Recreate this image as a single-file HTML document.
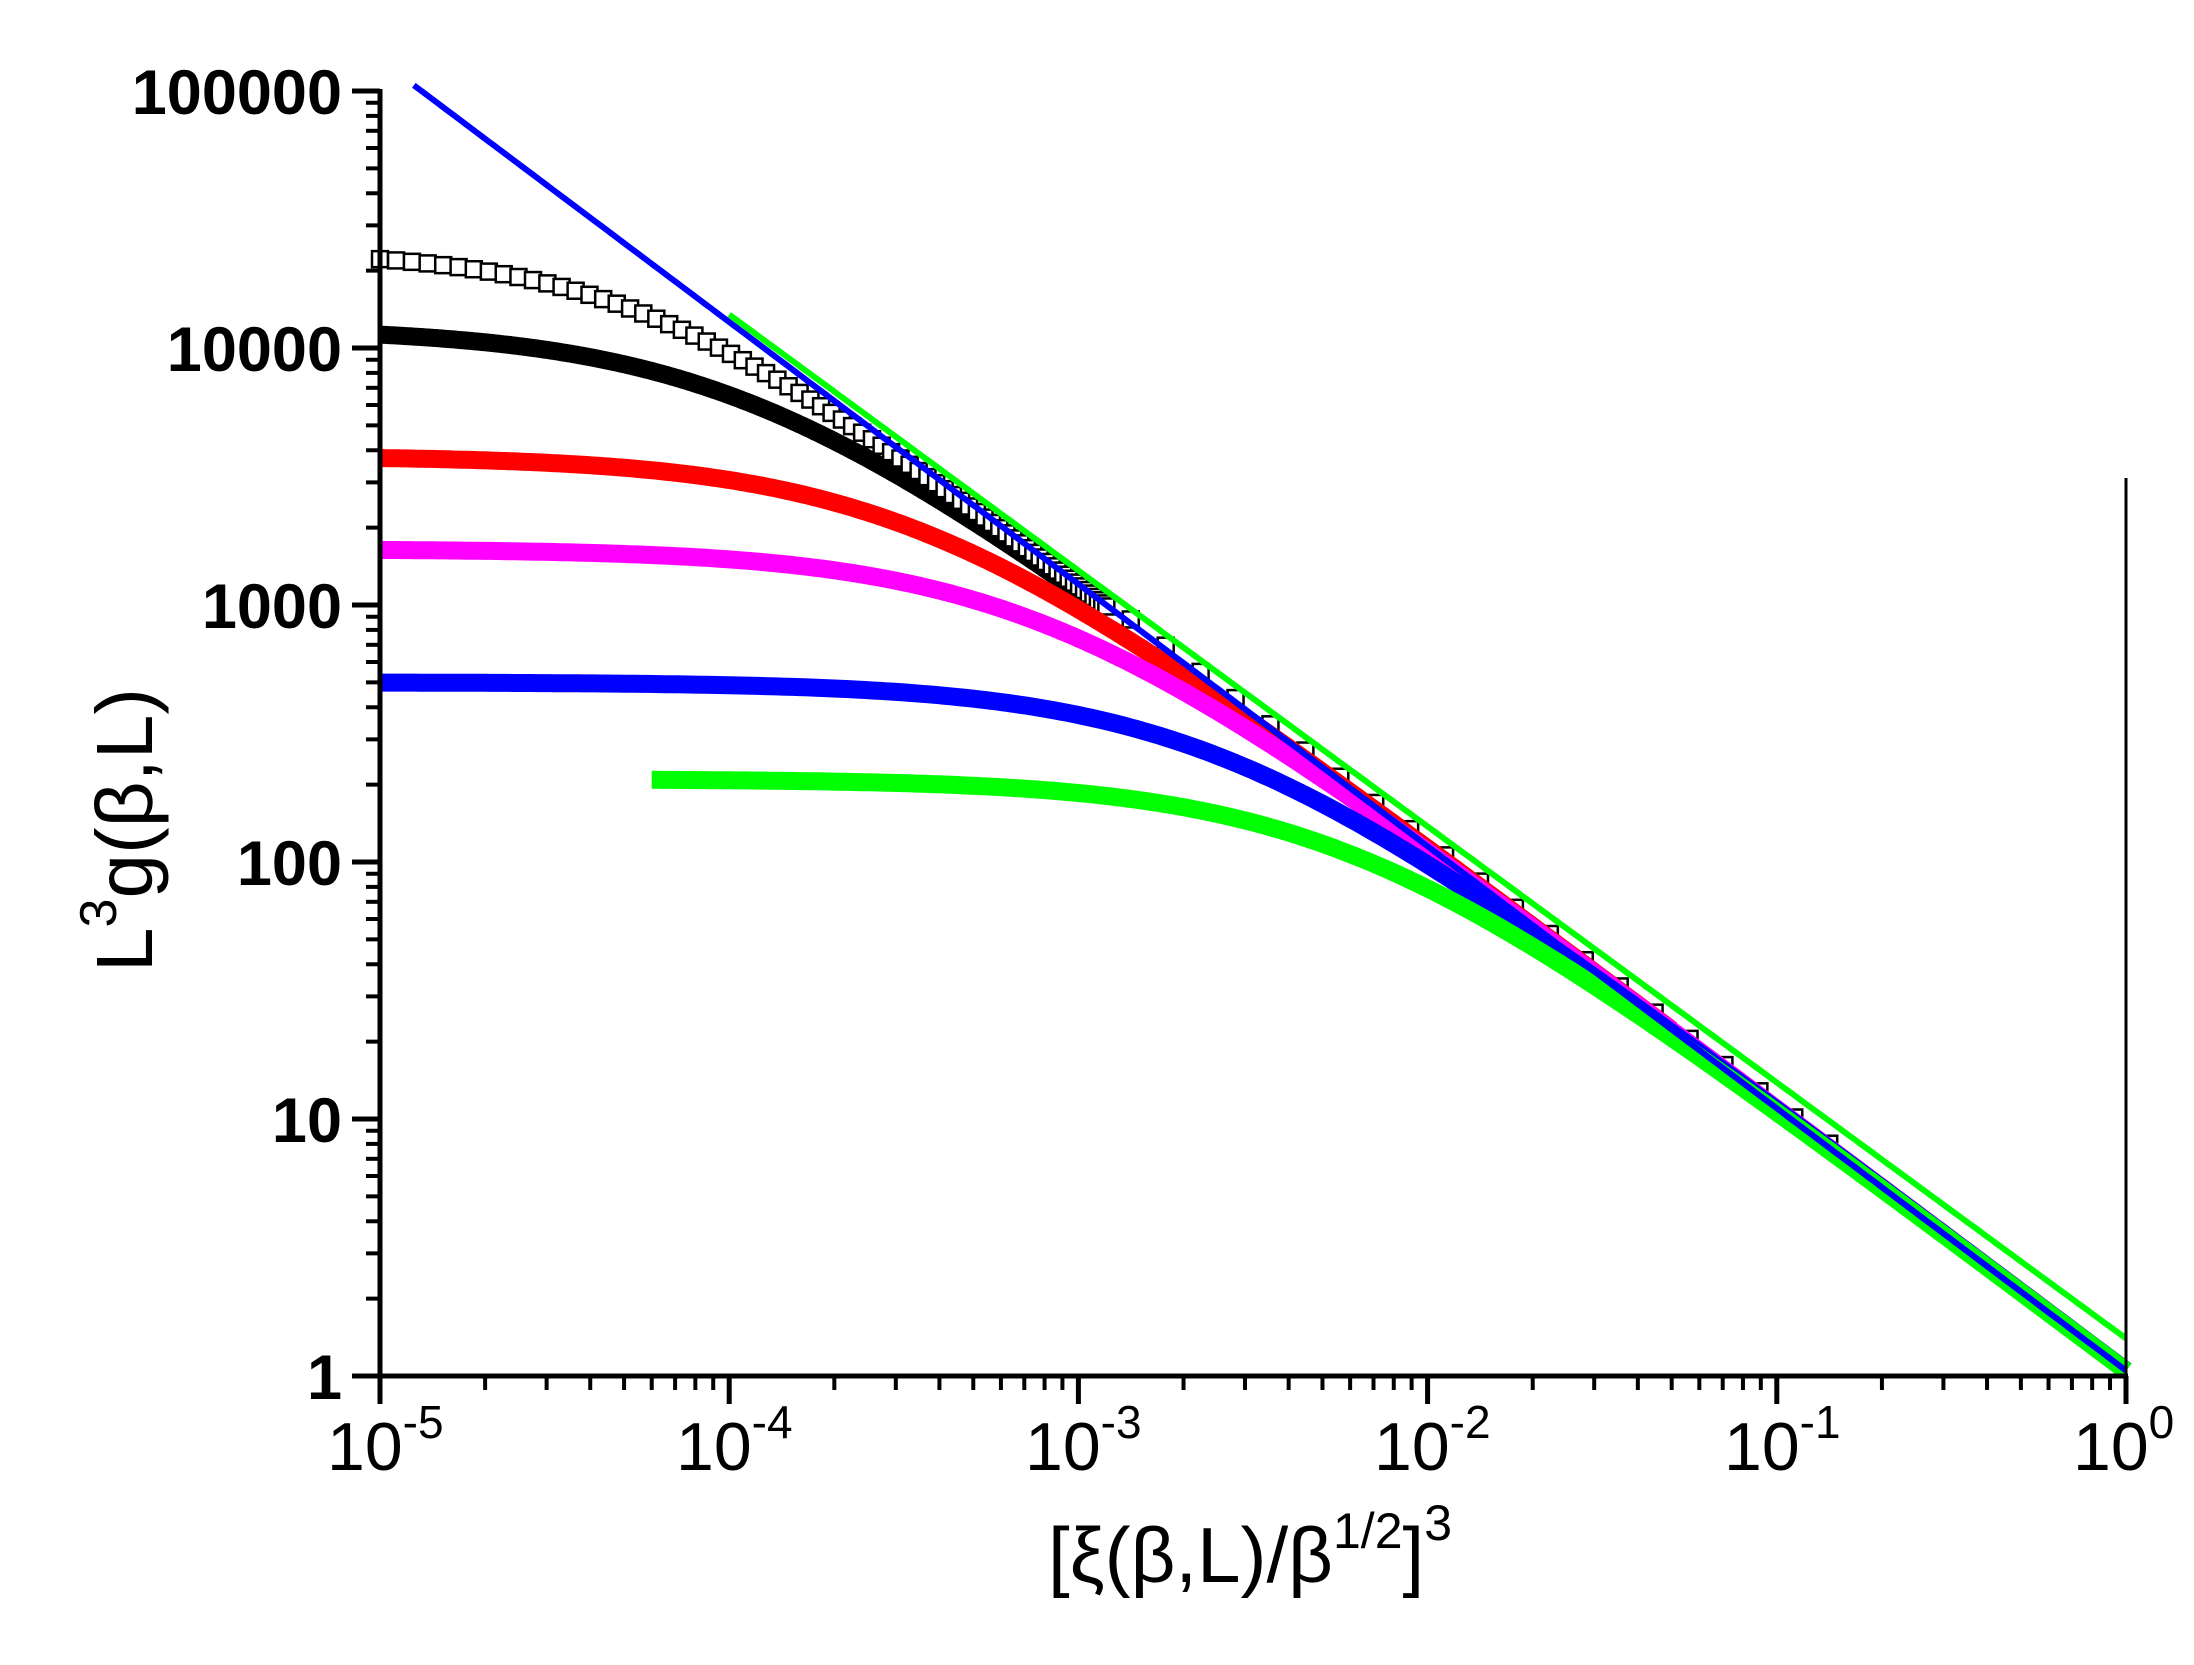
<!DOCTYPE html>
<html><head><meta charset="utf-8"><style>
html,body{margin:0;padding:0;background:#fff}
svg{display:block}
text{font-family:"Liberation Sans",Arial,sans-serif;fill:#000}
</style></head><body>
<svg id="s" width="2194" height="1665" viewBox="0 0 2194 1665" xmlns="http://www.w3.org/2000/svg">
<rect width="2194" height="1665" fill="#fff"/>
<g id="data"></g>
<g id="axes" stroke="#000" stroke-width="5" fill="none"></g>
<g font-size="63" font-weight="bold" text-anchor="end">
<text x="342" y="114">100000</text>
<text x="342" y="371">10000</text>
<text x="342" y="628">1000</text>
<text x="342" y="885">100</text>
<text x="342" y="1142">10</text>
<text x="342" y="1399">1</text>
</g>
<g font-size="68">
<text x="327" y="1470">10<tspan font-size="46" dy="-32">-5</tspan></text>
<text x="676" y="1470">10<tspan font-size="46" dy="-32">-4</tspan></text>
<text x="1025" y="1470">10<tspan font-size="46" dy="-32">-3</tspan></text>
<text x="1374" y="1470">10<tspan font-size="46" dy="-32">-2</tspan></text>
<text x="1724" y="1470">10<tspan font-size="46" dy="-32">-1</tspan></text>
<text x="2073" y="1470">10<tspan font-size="46" dy="-32">0</tspan></text>
</g>
<text x="1250" y="1582" font-size="78" text-anchor="middle">[ξ(β,L)/β<tspan font-size="50" dy="-34">1/2</tspan><tspan dy="34">]</tspan><tspan font-size="50" dy="-42">3</tspan></text>
<text transform="translate(152,830) rotate(-90)" font-size="80" text-anchor="middle">L<tspan font-size="52" dy="-36">3</tspan><tspan dy="36">g(β,L)</tspan></text>
</svg>
<script>
(function(){
var NS="http://www.w3.org/2000/svg";
var L=380,DX=349.2,B=1376,DY=257;
function X(x){return L+DX*(Math.log10(x)+5);}
function Y(v){return B-DY*Math.log10(v);}
var ax=document.getElementById('axes'),d=document.getElementById('data');
function el(p,tag,at){var e=document.createElementNS(NS,tag);for(var k in at)e.setAttribute(k,at[k]);p.appendChild(e);return e;}
var R=L+5*DX;
el(ax,'line',{x1:380,y1:89,x2:380,y2:B+2});
el(ax,'line',{x1:378,y1:B,x2:R+2,y2:B});
el(ax,'line',{x1:R,y1:478,x2:R,y2:B,'stroke-width':3});
for(var dec=0;dec<5;dec++){for(var m=1;m<=9;m++){var y=B-DY*(dec+Math.log10(m));
 el(ax,'line',{x1:m==1?352:366,y1:y,x2:380,y2:y,'stroke-width':m==1?5:4});}}
el(ax,'line',{x1:352,y1:B-5*DY,x2:380,y2:B-5*DY});
for(var dec=0;dec<5;dec++){for(var m=1;m<=9;m++){var x=L+DX*(dec+Math.log10(m));
 el(ax,'line',{x1:x,y1:B,x2:x,y2:m==1?B+28:B+14,'stroke-width':m==1?5:4});}}
el(ax,'line',{x1:R,y1:B,x2:R,y2:B+28});
function asym(x){return 1.05*Math.pow(x,-1.02);}
function curve(A,k){return function(x){var f=asym(x);return Math.pow(Math.pow(A,-k)+Math.pow(f,-k),-1/k);};}
function poly(fn,x0,x1,color,w){var pts=[];var n=300;for(var i=0;i<=n;i++){var lx=Math.log10(x0)+(Math.log10(x1)-Math.log10(x0))*i/n;var x=Math.pow(10,lx);pts.push(X(x).toFixed(1)+','+Y(fn(x)).toFixed(1));}
 el(d,'polyline',{points:pts.join(' '),fill:'none',stroke:color,'stroke-width':w,'stroke-linejoin':'round'});}
poly(curve(12000,1.1),1e-5,1.2e-3,'#000',18);
var fo=curve(24000,1.3),n=72;
for(var i=0;i<=n;i++){var t=i/n;var s=t*(1.6-0.6*t);var x=Math.pow(10,-5+2.08*s);
 el(d,'rect',{x:X(x)-8,y:Y(fo(x))-8,width:16,height:16,fill:'#fff',stroke:'#000','stroke-width':2.5});}
for(var lx=-2.85;lx<=-0.8;lx+=0.1){var x=Math.pow(10,lx);el(d,'rect',{x:X(x)-8,y:Y(asym(x))-12,width:16,height:16,fill:'#fff',stroke:'#000','stroke-width':2.5});}
poly(curve(3800,1.1),1e-5,0.05,'#f00',18);
poly(curve(1650,1.1),1e-5,1,'#f0f',18);
poly(curve(500,1.1),1e-5,1,'#00f',18);
poly(curve(210,1.1),6e-5,1,'#0f0',18);
poly(function(x){return 1.05*Math.pow(x,-1.02);},1.25e-5,1,'#00f',6);
poly(function(x){return 1.4*Math.pow(x,-0.996);},1e-4,1,'#0f0',6);
})();
</script>
</body></html>
